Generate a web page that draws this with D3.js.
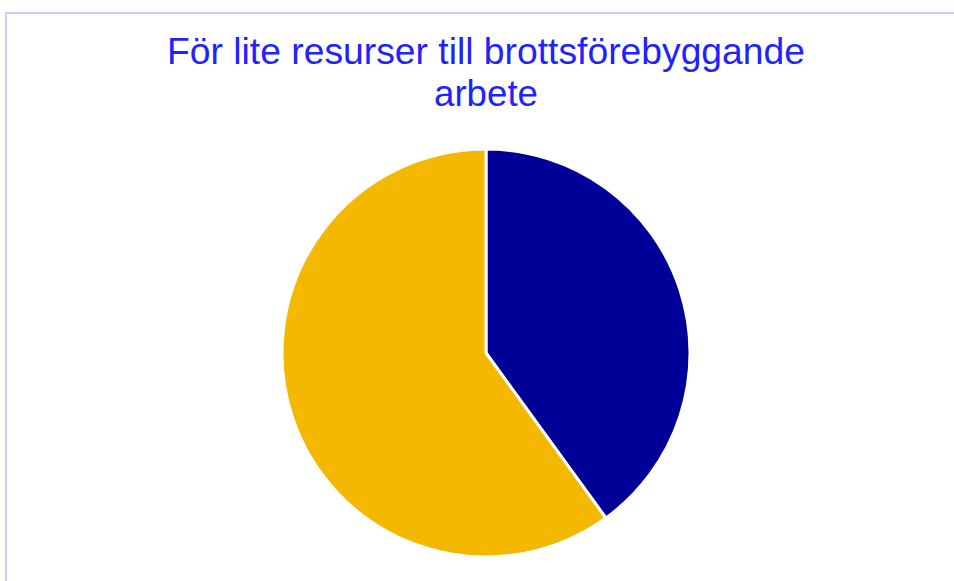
<!DOCTYPE html>
<html>
<head>
<meta charset="utf-8">
<script src="https://cdn.jsdelivr.net/npm/d3@7"></script>
<style>
  body { margin: 0; background: #fff; }
</style>
</head>
<body>
<div id="chart"></div>
<script>
const categories = ["Instämmer", "Instämmer inte"];
const values = [40, 60];
const colors = ["#000099", "#f5b800"];
const titleLines = ["För lite resurser till brottsförebyggande", "arbete"];

const width = 954, height = 581;
const cx = 486, cy = 353, radius = 204;

let svg = d3.select("#chart")
    .append("svg")
    .attr("width", width)
    .attr("height", height);

// frame, runs off the right and bottom edge
svg.append("rect")
    .attr("x", 6)
    .attr("y", 13)
    .attr("width", width + 20)
    .attr("height", height + 20)
    .attr("fill", "none")
    .attr("stroke", "#ccccff")
    .attr("stroke-width", 2);

let title = svg.append("text")
    .attr("text-anchor", "middle")
    .style("font-family", "'Liberation Sans Narrow', 'Liberation Sans', Arial, sans-serif")
    .style("font-size", "36px")
    .attr("fill", "#2222ff");

title.append("tspan")
    .attr("x", 486)
    .attr("y", 64)
    .attr("textLength", 638)
    .attr("lengthAdjust", "spacingAndGlyphs")
    .text(titleLines[0]);

title.append("tspan")
    .attr("x", 486)
    .attr("y", 106)
    .attr("textLength", 104)
    .attr("lengthAdjust", "spacingAndGlyphs")
    .text(titleLines[1]);

let pie = d3.pie().sort(null).value(d => d);
let arc = d3.arc().innerRadius(0).outerRadius(radius);

let color = d3.scaleOrdinal()
    .domain(categories)
    .range(colors);

svg.append("g")
    .attr("transform", `translate(${cx}, ${cy})`)
    .selectAll("path")
    .data(pie(values))
    .enter()
    .append("path")
    .attr("d", arc)
    .attr("fill", (d, i) => color(categories[i]))
    .attr("stroke", "#fff")
    .attr("stroke-width", 3)
    .attr("stroke-linejoin", "round");
</script>
</body>
</html>
